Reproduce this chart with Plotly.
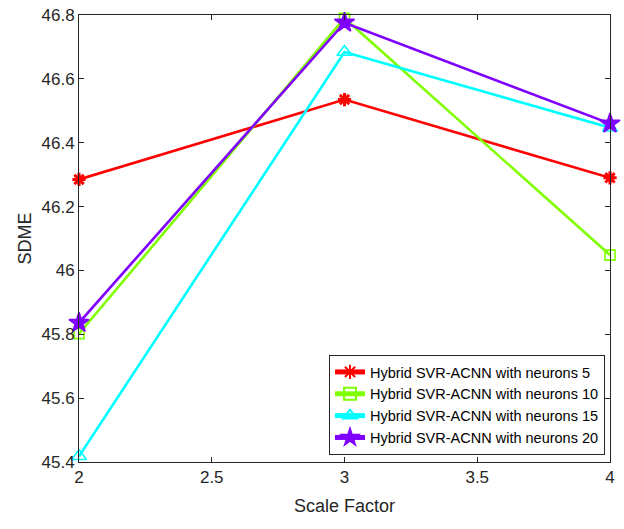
import plotly.graph_objects as go

scale_factor = [2, 3, 4]
sdme_n5 = [46.285, 46.535, 46.290]
sdme_n10 = [45.802, 46.790, 46.048]
sdme_n15 = [45.418, 46.684, 46.447]
sdme_n20 = [45.836, 46.776, 46.460]

names = ["Hybrid SVR-ACNN with neurons 5", "Hybrid SVR-ACNN with neurons 10",
         "Hybrid SVR-ACNN with neurons 15", "Hybrid SVR-ACNN with neurons 20"]
colors = ["#ff0000", "#80ff00", "#00ffff", "#7f00ff"]
symbols = ["asterisk-open", "square-open", "triangle-up-open", "star"]
sizes = [11, 10, 13, 15]
series = [sdme_n5, sdme_n10, sdme_n15, sdme_n20]

fig = go.Figure()
for name, vals, c, s, sz in zip(names, series, colors, symbols, sizes):
    mline = dict(color=c, width=3 if s == "asterisk-open" else 1.6)
    fig.add_trace(go.Scatter(
        x=scale_factor, y=vals, name=name, mode="lines+markers",
        line=dict(color=c, width=2.6),
        marker=dict(symbol=s, size=sz, color=c, line=mline),
        cliponaxis=False,
    ))

axis_common = dict(
    showline=True, linecolor="#262626", linewidth=1, mirror="ticks",
    ticks="inside", ticklen=5, tickcolor="#262626", tickwidth=1,
    showgrid=False, zeroline=False, automargin=False, ticklabeloverflow="allow",
    tickfont=dict(family="Liberation Sans, Arial, sans-serif", size=17, color="#262626"),
)

fig.update_layout(
    width=624, height=529,
    margin=dict(l=79, r=14, t=15, b=67),
    paper_bgcolor="white", plot_bgcolor="white",
    font=dict(family="Liberation Sans, Arial, sans-serif", color="#262626"),
    xaxis=dict(range=[2, 4], tickvals=[2, 2.5, 3, 3.5, 4], ticktext=["2", "2.5", "3", "3.5", "4"],
               title=dict(text="Scale Factor", font=dict(size=18), standoff=12), **axis_common),
    yaxis=dict(range=[45.4, 46.8], tickvals=[45.4, 45.6, 45.8, 46.0, 46.2, 46.4, 46.6, 46.8],
               ticktext=["45.4", "45.6", "45.8", "46", "46.2", "46.4", "46.6", "46.8"],
               title=dict(text="SDME", font=dict(size=18), standoff=5), **axis_common),
    legend=dict(x=0.9906, y=0.0157, xanchor="right", yanchor="bottom",
                bgcolor="white", bordercolor="#262626", borderwidth=1,
                font=dict(size=14.5, color="#000000"), tracegroupgap=0,
                itemsizing="constant"),
    showlegend=True,
)

fig.write_html("out.html", config={"displayModeBar": False},
               post_script="document.body.style.margin='0';document.body.style.overflow='hidden';")
